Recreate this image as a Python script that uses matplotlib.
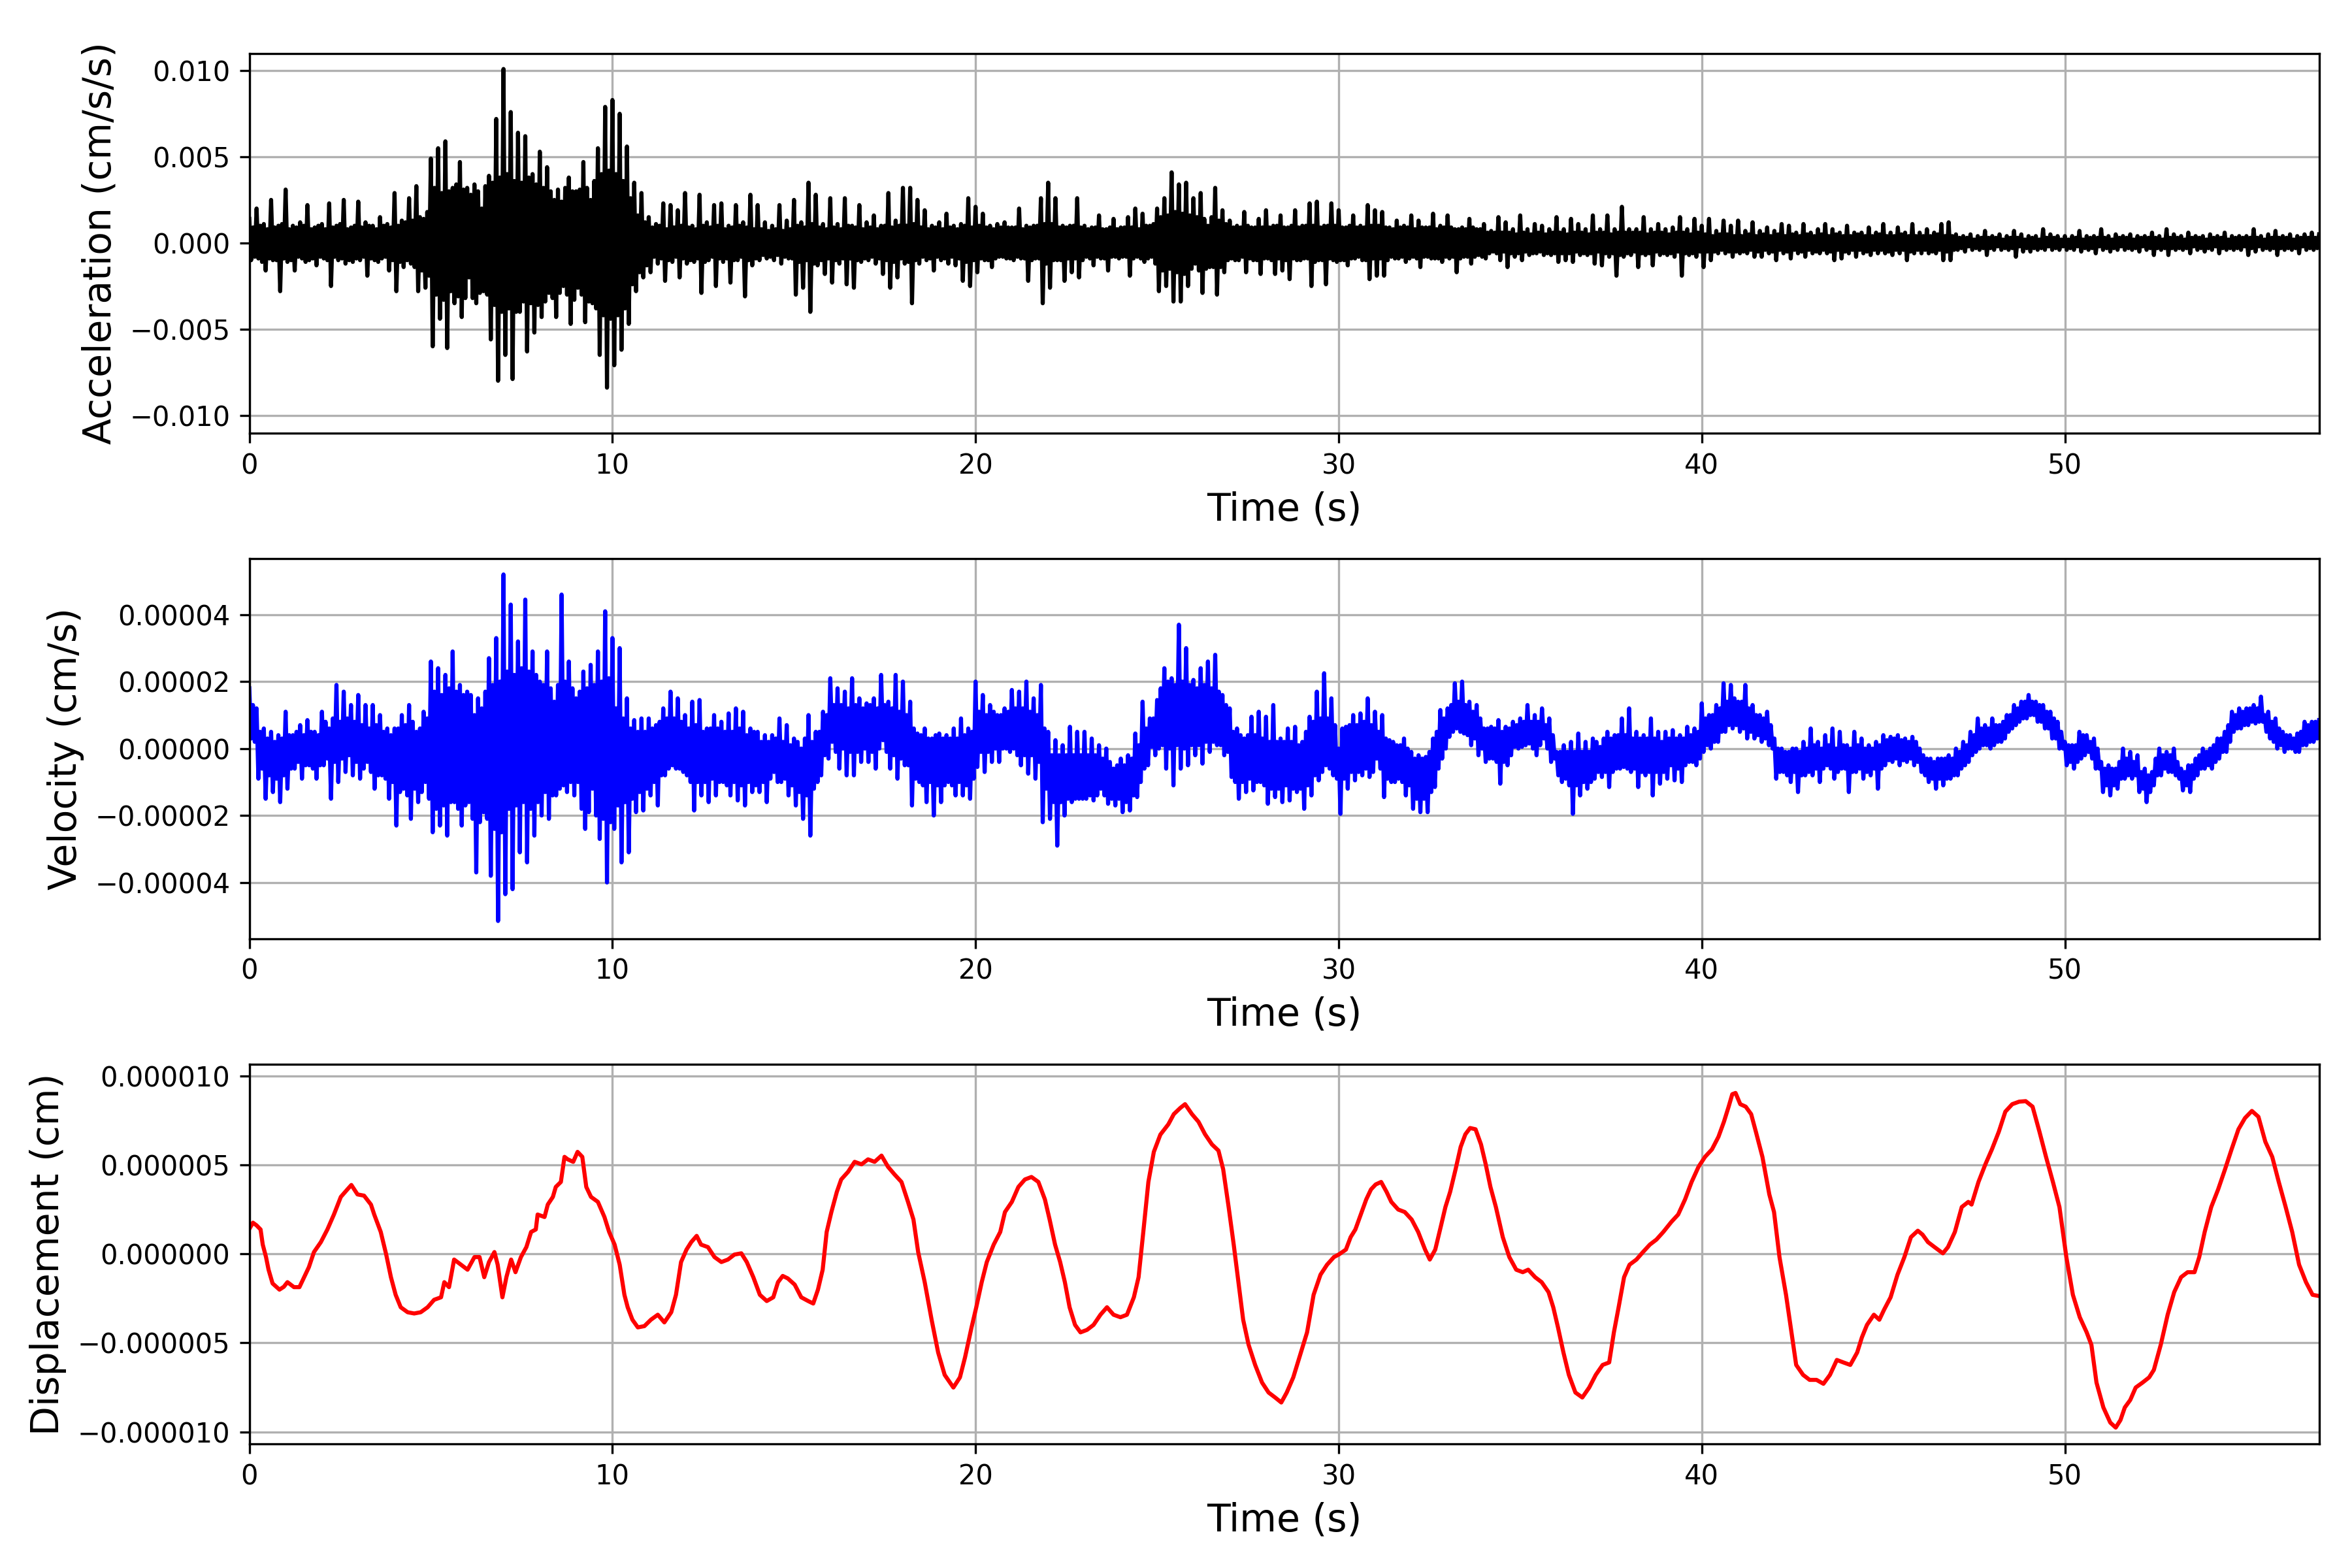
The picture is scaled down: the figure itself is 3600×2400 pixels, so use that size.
import numpy as np
import matplotlib
matplotlib.use("Agg")
import matplotlib.pyplot as plt

plt.rcParams['font.family'] = ['DejaVu Sans']
plt.rcParams['axes.formatter.limits'] = (-10, 10)

# ---------------- data ----------------
DT = 0.05  # sample spacing of the traced traces (s)

# acceleration, in units of 1e-3 cm/s/s, one row per second
accel_milli = [
    1.4,-1.0,0.9,-0.8,2.0,-0.9,1.0,-1.1,1.1,-1.6,0.8,-0.9,2.5,-1.0,0.9,-1.0,1.0,-2.8,1.1,-0.9,
    3.1,-1.1,0.8,-1.0,1.0,-1.6,0.9,-0.8,1.2,-0.9,1.0,-1.1,2.2,-1.0,0.8,-0.9,0.9,-1.3,1.0,-0.8,
    1.1,-0.9,0.8,-1.0,2.3,-2.5,0.9,-0.8,1.0,-1.0,1.1,-0.9,2.5,-1.2,0.8,-1.0,0.9,-1.1,1.0,-0.9,
    2.4,-1.0,0.9,-0.8,1.2,-1.9,1.0,-0.9,1.0,-1.0,0.8,-1.1,1.5,-0.9,1.0,-0.8,1.1,-1.6,0.9,-1.0,
    2.9,-2.8,1.0,-1.1,1.3,-1.4,1.2,-1.0,2.6,-1.2,1.3,-1.4,3.3,-2.8,1.5,-1.6,1.4,-2.6,1.8,-1.9,
    4.9,-6.0,3.2,-3.0,5.5,-4.4,2.9,-3.3,5.9,-6.1,3.0,-2.8,3.2,-3.5,3.4,-3.1,4.7,-4.3,3.1,-3.2,
    3.2,-2.0,2.8,-3.2,3.4,-3.5,3.0,-2.9,2.0,-2.8,3.3,-3.0,3.9,-5.6,3.5,-3.6,7.2,-8.0,3.8,-4.0,
    10.1,-6.5,4.0,-3.8,7.6,-7.9,3.6,-4.0,6.4,-4.0,3.5,-3.4,6.2,-6.3,3.8,-3.5,4.0,-5.2,3.4,-3.6,
    5.3,-4.3,3.2,-3.4,4.4,-2.9,3.0,-3.2,2.5,-4.3,3.1,-2.9,2.4,-2.5,3.2,-3.0,3.8,-4.7,3.0,-3.3,
    3.0,-2.6,3.1,-3.0,4.7,-4.6,3.2,-3.4,2.5,-3.5,3.6,-3.8,5.5,-6.5,4.0,-4.2,7.9,-8.4,4.2,-4.4,
    8.3,-7.1,4.0,-4.2,7.5,-6.2,3.6,-3.8,5.6,-4.7,2.6,-2.4,3.5,-2.8,1.6,-1.7,2.9,-2.0,1.2,-1.3,
    1.5,-1.7,0.9,-0.8,1.1,-1.2,1.0,-0.9,2.3,-2.2,0.8,-1.0,2.2,-1.1,0.9,-0.8,1.9,-2.0,1.0,-0.9,
    2.9,-1.2,0.9,-1.0,1.0,-1.1,0.8,-0.9,2.8,-2.9,1.0,-1.1,1.2,-1.0,0.9,-0.8,2.2,-2.5,1.0,-0.9,
    2.3,-1.1,0.8,-0.9,1.0,-2.3,0.9,-1.0,2.2,-1.0,1.0,-0.8,1.2,-3.1,0.9,-1.0,2.8,-1.3,0.8,-0.9,
    2.2,-1.0,0.8,-0.7,1.2,-0.9,0.7,-0.8,1.0,-1.0,0.8,-0.7,2.2,-1.2,0.7,-0.8,1.3,-0.9,0.8,-0.9,
    2.5,-3.0,1.0,-1.1,1.2,-2.6,0.9,-1.0,3.5,-4.0,1.1,-1.2,2.8,-1.3,0.9,-1.0,1.1,-1.8,0.8,-0.9,
    2.6,-2.3,0.9,-1.0,1.1,-1.2,0.8,-0.9,2.6,-2.4,1.0,-0.9,1.0,-2.6,0.9,-1.0,2.2,-1.1,0.8,-0.9,
    1.2,-1.0,0.9,-0.8,1.6,-1.2,0.8,-0.9,1.0,-1.8,1.0,-1.0,2.9,-2.6,0.9,-1.1,1.3,-2.0,1.0,-0.9,
    3.2,-1.2,1.0,-1.1,3.2,-3.5,1.1,-1.0,2.5,-1.2,0.9,-0.8,1.9,-1.0,0.8,-0.9,1.0,-1.6,0.9,-0.8,
    1.2,-1.0,0.8,-0.9,1.7,-1.2,0.9,-0.8,1.0,-1.3,0.8,-0.9,1.1,-2.2,1.0,-1.1,2.6,-2.5,0.9,-1.0,
    2.1,-1.7,1.0,-0.9,1.7,-1.0,0.9,-1.0,1.0,-1.4,0.8,-0.9,1.1,-0.8,0.9,-0.8,1.2,-0.9,0.9,-0.9,
    0.9,-1.0,0.9,-0.8,2.0,-0.9,0.8,-0.9,1.0,-2.2,0.9,-1.0,1.0,-0.9,1.0,-0.9,2.6,-3.5,1.1,-1.2,
    3.5,-2.6,1.1,-1.0,2.6,-1.0,0.9,-1.0,1.0,-2.2,0.9,-0.9,1.0,-1.7,1.0,-0.9,2.6,-2.0,0.9,-1.0,
    1.0,-0.8,0.8,-0.9,0.9,-1.3,0.9,-0.8,1.6,-0.9,0.8,-0.9,0.8,-1.6,0.9,-0.8,1.4,-0.8,0.8,-0.9,
    0.9,-0.8,0.9,-0.8,1.5,-1.9,0.9,-0.9,2.0,-0.8,0.8,-0.9,1.7,-1.1,1.0,-0.9,1.0,-0.8,1.1,-1.2,
    2.0,-2.8,1.5,-1.6,2.6,-2.5,1.6,-1.5,4.1,-3.4,1.8,-1.7,3.4,-3.4,1.7,-1.8,3.5,-2.5,1.6,-1.5,
    2.6,-1.2,1.5,-1.6,2.9,-2.9,1.4,-1.5,1.0,-1.4,1.5,-1.4,3.2,-3.0,1.3,-1.4,1.9,-1.7,1.1,-1.0,
    1.3,-0.9,0.9,-1.0,1.0,-1.0,0.9,-0.8,1.8,-1.7,1.0,-0.9,0.9,-1.0,0.9,-1.0,1.4,-1.8,0.9,-0.9,
    1.9,-0.9,0.9,-1.0,1.0,-1.8,1.0,-0.9,1.6,-1.6,0.9,-1.0,0.9,-2.1,1.0,-0.9,1.9,-1.0,0.9,-1.0,
    1.0,-0.9,1.0,-0.9,2.3,-2.5,1.0,-1.1,2.4,-1.0,0.9,-1.0,1.0,-2.4,1.0,-0.9,2.3,-1.0,1.0,-1.1,
    1.9,-1.0,0.9,-1.0,0.9,-1.3,1.0,-0.9,1.6,-0.9,0.9,-0.8,1.0,-1.0,0.9,-1.0,2.2,-2.1,1.0,-0.9,
    1.9,-1.9,1.0,-0.9,1.8,-1.9,0.9,-1.0,0.9,-0.8,0.8,-0.9,1.3,-0.9,0.9,-0.8,1.0,-1.1,0.9,-0.9,
    1.6,-0.8,0.8,-0.9,1.3,-1.4,0.9,-0.8,0.9,-0.8,0.9,-0.9,1.7,-0.9,0.8,-0.9,1.0,-1.1,0.9,-0.8,
    1.6,-0.9,0.9,-0.8,0.8,-1.7,0.8,-0.9,0.9,-0.8,0.8,-0.8,1.4,-1.2,0.9,-0.8,0.8,-0.7,0.8,-0.8,
    1.1,-0.9,0.6,-0.6,0.7,-0.5,0.6,-0.6,1.5,-1.0,0.6,-0.5,1.2,-1.4,0.6,-0.6,0.8,-0.8,0.5,-0.6,
    1.6,-1.0,0.6,-0.5,0.8,-0.7,0.5,-0.6,1.1,-0.6,0.6,-0.5,1.0,-0.7,0.5,-0.6,0.8,-0.7,0.6,-0.6,
    1.5,-1.1,0.6,-0.6,0.8,-1.0,0.5,-0.6,1.4,-1.1,0.6,-0.5,1.1,-0.7,0.6,-0.6,0.8,-0.7,0.5,-0.6,
    1.6,-1.2,0.6,-0.5,0.8,-1.3,0.6,-0.6,1.6,-0.8,0.5,-0.6,0.8,-1.9,0.6,-0.7,2.1,-0.8,0.6,-0.6,
    0.8,-0.7,0.6,-0.5,0.8,-1.4,0.6,-0.6,1.5,-0.7,0.5,-0.6,0.8,-1.3,0.6,-0.5,1.1,-0.7,0.6,-0.6,
    0.8,-0.7,0.5,-0.6,0.9,-0.8,0.6,-0.5,1.5,-1.9,0.6,-0.6,0.8,-0.7,0.5,-0.6,1.4,-0.8,0.6,-0.5,
    1.0,-1.4,0.5,-0.5,1.4,-1.0,0.4,-0.5,0.7,-0.6,0.5,-0.4,1.3,-0.6,0.5,-0.5,1.0,-0.8,0.4,-0.5,
    1.3,-0.6,0.4,-0.5,0.7,-0.6,0.5,-0.4,1.2,-0.8,0.4,-0.5,0.7,-0.8,0.5,-0.4,0.9,-0.6,0.4,-0.5,
    0.7,-1.0,0.5,-0.4,1.1,-0.6,0.4,-0.5,1.0,-0.9,0.5,-0.4,0.6,-0.6,0.4,-0.5,1.1,-0.8,0.5,-0.4,
    0.6,-0.6,0.4,-0.5,0.8,-0.6,0.5,-0.4,1.1,-0.6,0.4,-0.5,0.8,-1.0,0.5,-0.4,0.6,-0.9,0.4,-0.5,
    1.0,-0.6,0.4,-0.4,0.6,-0.8,0.5,-0.4,0.6,-0.6,0.4,-0.5,0.9,-0.7,0.4,-0.4,0.6,-0.6,0.5,-0.4,
    1.1,-0.6,0.4,-0.5,0.6,-0.7,0.4,-0.4,0.9,-0.6,0.5,-0.4,0.6,-1.0,0.4,-0.5,1.1,-0.6,0.4,-0.4,
    0.6,-0.6,0.4,-0.4,0.8,-0.6,0.4,-0.5,0.6,-0.6,0.5,-0.4,1.1,-1.0,0.4,-0.5,1.2,-1.0,0.4,-0.4,
    0.5,-0.4,0.3,-0.3,0.4,-0.5,0.3,-0.2,0.5,-0.4,0.2,-0.3,0.4,-0.4,0.3,-0.3,0.7,-0.7,0.3,-0.3,
    0.4,-0.4,0.3,-0.2,0.5,-0.4,0.2,-0.3,0.4,-0.4,0.3,-0.3,0.7,-0.8,0.3,-0.2,0.5,-0.5,0.2,-0.3,
    0.4,-0.5,0.3,-0.3,0.4,-0.4,0.2,-0.3,0.8,-0.4,0.3,-0.2,0.5,-0.4,0.3,-0.3,0.4,-0.4,0.2,-0.2,
    0.4,-0.4,0.2,-0.3,0.4,-0.4,0.3,-0.2,0.7,-0.5,0.2,-0.3,0.4,-0.4,0.3,-0.3,0.4,-0.6,0.3,-0.2,
    0.8,-0.4,0.3,-0.3,0.4,-0.5,0.2,-0.3,0.5,-0.4,0.3,-0.2,0.4,-0.4,0.3,-0.3,0.5,-0.4,0.2,-0.3,
    0.4,-0.5,0.3,-0.2,0.4,-0.4,0.3,-0.3,0.6,-0.7,0.3,-0.3,0.4,-0.4,0.2,-0.3,0.8,-0.7,0.3,-0.3,
    0.5,-0.4,0.3,-0.3,0.4,-0.4,0.2,-0.3,0.6,-0.6,0.3,-0.2,0.4,-0.4,0.3,-0.3,0.4,-0.5,0.2,-0.3,
    0.5,-0.4,0.3,-0.2,0.4,-0.6,0.3,-0.3,0.6,-0.4,0.2,-0.3,0.4,-0.4,0.3,-0.3,0.4,-0.4,0.3,-0.2,
    0.4,-0.7,0.3,-0.3,0.8,-0.5,0.3,-0.2,0.4,-0.4,0.2,-0.3,0.5,-0.4,0.3,-0.3,0.7,-0.7,0.3,-0.3,
    0.4,-0.4,0.3,-0.3,0.5,-0.4,0.2,-0.3,0.4,-0.6,0.3,-0.2,0.5,-0.4,0.3,-0.3,0.6,-0.4,0.3,-0.3,
    0.5,
]

# velocity, in units of 1e-5 cm/s, one row per second
vel_e5 = [
    1.8,0.3,1.3,0.2,1.2,-0.9,0.5,-0.6,0.6,-1.5,0.3,-0.8,0.5,-1.3,0.2,-0.9,0.4,-1.6,0.3,-0.8,
    1.1,-1.2,0.4,-0.6,0.4,-0.6,0.5,-0.4,0.7,-0.9,0.4,-0.5,0.85,-0.5,0.5,-0.6,0.5,-0.9,0.4,-0.5,
    1.1,-0.5,0.8,-0.3,0.6,-1.5,0.9,-0.4,1.9,-1.0,0.8,-0.3,1.7,-0.7,0.9,-0.2,1.3,-0.8,0.8,-0.4,
    1.6,-0.9,0.7,-0.6,1.3,-0.4,0.6,-0.7,1.3,-1.2,0.7,-0.8,1.0,-0.8,0.5,-0.9,0.6,-1.5,0.4,-1.0,
    0.6,-2.3,0.6,-1.3,1.0,-1.2,0.7,-1.4,1.3,-2.1,0.8,-1.2,0.5,-1.6,0.6,-1.3,1.1,-1.0,0.9,-1.5,
    2.6,-2.5,1.7,-1.8,2.4,-2.3,1.6,-1.7,2.2,-2.6,1.8,-1.6,2.9,-1.6,1.7,-1.8,1.9,-2.3,1.6,-1.7,
    1.7,-1.6,1.6,-2.1,1.0,-3.7,1.5,-2.2,1.2,-1.9,1.7,-2.1,2.7,-3.8,1.9,-2.4,3.3,-5.15,2.0,-2.5,
    5.2,-4.35,2.3,-1.8,4.3,-4.2,2.2,-1.7,3.2,-3.1,2.4,-1.6,4.45,-3.4,2.3,-1.8,2.9,-2.6,2.2,-1.6,
    2.0,-2.0,1.9,-1.3,2.9,-2.1,1.8,-1.4,1.4,-1.4,1.9,-1.2,4.6,-1.1,2.0,-1.3,2.6,-1.0,1.8,-1.4,
    1.5,-1.0,1.7,-1.8,2.3,-2.4,1.8,-1.9,2.5,-1.2,1.9,-2.0,2.9,-2.7,2.0,-2.1,4.1,-4.0,2.1,-2.2,
    3.3,-2.4,1.2,-1.7,3.0,-3.4,0.9,-1.6,1.5,-3.1,0.6,-1.5,0.85,-1.9,0.5,-1.3,0.9,-1.85,0.5,-1.2,
    0.9,-1.4,0.6,-1.0,0.7,-1.7,0.8,-0.8,1.2,-0.8,0.9,-0.6,1.7,-0.5,0.9,-0.6,1.5,-0.6,0.8,-0.7,
    1.0,-0.8,0.6,-1.0,1.4,-1.85,0.7,-1.0,1.45,-1.4,0.5,-1.0,0.6,-1.6,0.6,-0.9,1.0,-1.4,0.6,-1.0,
    0.8,-1.0,0.5,-1.1,1.05,-1.4,0.5,-1.0,1.2,-1.55,0.6,-1.1,1.1,-1.7,0.4,-1.0,0.6,-1.3,0.5,-1.1,
    0.5,-1.3,0.2,-1.0,0.4,-1.6,0.2,-0.9,0.4,-0.7,0.3,-1.0,0.9,-1.0,0.2,-0.9,0.7,-1.4,0.1,-1.1,
    0.3,-1.7,0.2,-1.3,0.0,-2.1,0.3,-1.4,1.0,-2.6,0.2,-1.2,0.5,-1.0,0.5,-0.8,1.1,-0.2,1.0,-0.3,
    2.1,0.2,1.3,-0.1,1.8,-0.6,1.3,0.0,1.7,-0.8,1.2,-0.1,2.1,-0.8,1.3,-0.1,1.5,-0.4,1.2,0.0,
    1.35,-0.4,1.3,-0.1,1.5,-0.6,1.2,0.0,2.2,0.25,1.3,-0.1,1.4,-0.6,1.2,-0.2,2.2,-0.9,1.1,-0.3,
    2.0,-0.5,1.0,-0.5,1.4,-1.7,0.6,-0.9,0.45,-1.0,0.4,-1.1,0.6,-1.6,0.3,-1.0,0.3,-2.0,0.4,-1.1,
    0.45,-1.6,0.3,-1.1,0.4,-1.0,0.3,-1.1,0.6,-1.4,0.3,-1.0,0.9,-1.4,0.4,-1.1,0.6,-1.5,0.5,-0.9,
    2.0,-0.55,1.1,-0.1,1.6,-0.7,1.0,-0.1,1.3,-0.4,1.1,0.0,1.0,-0.4,1.0,0.0,1.2,0.0,1.1,-0.1,
    1.75,0.0,1.2,-0.2,1.7,-0.5,1.2,-0.2,2.0,-0.75,1.1,-0.2,1.5,-0.9,1.0,-0.4,1.9,-2.2,0.6,-1.2,
    0.5,-2.1,-0.2,-1.6,0.25,-2.9,-0.2,-1.6,0.1,-2.0,-0.2,-1.5,0.65,-1.6,-0.2,-1.5,0.5,-1.5,-0.2,-1.5,
    0.5,-1.5,-0.2,-1.4,0.3,-1.55,-0.2,-1.4,0.1,-1.2,-0.3,-1.4,0.0,-1.65,-0.4,-1.5,-0.6,-1.7,-0.5,-1.5,
    -0.3,-1.9,-0.5,-1.6,-0.2,-1.85,-0.3,-1.4,0.45,-1.45,0.1,-1.0,1.4,-0.6,0.6,-0.5,0.9,0.05,0.9,-0.2,
    1.45,0.0,1.8,0.1,2.4,-0.6,2.0,0.0,2.1,-1.1,1.9,0.1,3.7,-0.6,2.0,0.0,3.0,-0.5,1.9,0.1,
    2.05,-0.2,1.8,0.1,2.4,-0.45,1.9,0.2,2.6,-0.1,1.8,0.2,2.8,0.1,1.7,0.1,1.6,-0.2,1.3,-0.1,
    1.2,-0.85,0.5,-1.0,0.6,-1.5,0.4,-1.0,0.3,-1.3,0.4,-0.9,0.95,-1.25,0.4,-1.0,1.1,-1.0,0.3,-1.1,
    0.95,-1.65,0.2,-1.2,1.3,-1.45,0.2,-1.2,0.3,-1.6,0.2,-1.1,0.6,-1.55,0.2,-1.2,0.65,-1.3,0.1,-1.2,
    0.2,-1.8,0.5,-1.1,0.95,-1.4,0.8,-0.8,1.7,-0.95,0.9,-0.7,2.25,-0.5,0.9,-0.6,1.5,-0.8,0.7,-0.9,
    0.0,-1.95,0.6,-0.9,0.65,-1.2,0.7,-0.7,1.0,-0.95,0.7,-0.7,1.05,-0.8,0.8,-0.6,1.5,-0.85,0.7,-0.7,
    1.1,-0.3,0.5,-0.6,1.0,-1.45,0.3,-0.9,0.25,-1.0,0.2,-1.0,0.1,-0.9,0.1,-1.0,0.3,-1.4,0.0,-1.1,
    -0.1,-1.8,-0.3,-1.5,-0.2,-1.9,-0.3,-1.5,-0.25,-1.9,-0.1,-1.3,0.3,-1.15,0.5,-0.6,1.15,-0.3,0.9,0.0,
    1.2,0.35,1.3,0.5,1.95,0.6,1.4,0.5,2.0,0.45,1.3,0.4,1.4,0.1,1.1,0.3,1.3,-0.2,0.9,0.0,
    0.6,-0.4,0.6,-0.3,0.65,-0.3,0.6,-0.4,0.85,-1.05,0.5,-0.4,0.65,-0.5,0.6,-0.2,0.8,0.05,0.7,0.0,
    0.9,0.05,0.8,0.1,1.3,0.15,0.8,0.0,1.0,-0.2,0.8,0.1,1.2,0.3,0.7,0.0,0.9,-0.4,0.4,-0.3,
    -0.1,-0.8,-0.1,-1.0,0.1,-0.9,-0.1,-1.1,0.2,-1.95,-0.1,-1.1,0.45,-1.4,-0.1,-1.0,0.2,-1.2,-0.1,-1.0,
    0.3,-0.9,0.2,-0.7,0.05,-0.85,0.3,-0.7,0.5,-1.15,0.3,-0.7,0.4,-0.6,0.4,-0.6,0.9,-0.55,0.4,-0.6,
    1.2,-0.7,0.3,-0.6,0.5,-1.15,0.3,-0.7,0.4,-0.8,0.3,-0.7,0.9,-1.4,0.3,-0.7,0.5,-1.05,0.2,-0.7,
    0.5,-0.9,0.3,-0.5,0.55,-0.95,0.3,-0.6,0.4,-1.0,0.3,-0.5,0.65,-0.4,0.4,-0.4,0.6,-0.5,0.5,-0.3,
    1.35,-0.1,0.9,0.1,1.0,0.0,1.0,0.2,1.3,0.2,1.2,0.5,1.95,0.5,1.4,0.7,1.9,0.6,1.5,0.7,
    1.4,0.5,1.4,0.6,1.9,0.3,1.2,0.5,1.3,0.3,1.0,0.4,1.0,0.2,0.9,0.3,1.1,0.1,0.7,0.0,
    0.3,-0.9,0.0,-0.7,0.0,-0.7,-0.1,-0.8,-0.1,-1.0,0.0,-0.7,0.0,-1.3,-0.1,-0.8,0.2,-0.8,0.0,-0.7,
    0.6,-0.8,0.1,-0.6,0.2,-1.0,0.0,-0.6,0.4,-0.5,0.1,-0.6,0.6,-0.9,0.0,-0.7,0.5,-0.6,0.1,-0.6,
    0.1,-1.3,0.0,-0.7,0.5,-0.7,0.1,-0.6,0.3,-0.9,0.0,-0.7,0.1,-0.8,0.0,-0.6,0.2,-1.2,0.1,-0.6,
    0.4,-0.5,0.25,-0.35,0.35,-0.4,0.3,-0.3,0.4,-0.5,0.25,-0.35,0.3,-0.4,0.2,-0.3,0.35,-0.5,0.2,-0.4,
    0.0,-0.7,-0.2,-0.8,-0.3,-1.0,-0.3,-0.9,-0.4,-1.2,-0.3,-0.9,-0.3,-1.1,-0.3,-0.9,-0.2,-0.9,-0.3,-0.8,
    0.0,-0.8,-0.1,-0.6,0.2,-0.5,0.1,-0.4,0.5,-0.2,0.4,-0.1,0.9,0.0,0.6,0.1,0.7,0.1,0.6,0.0,
    0.9,0.1,0.7,0.2,0.7,0.2,0.8,0.3,1.0,0.5,1.0,0.6,1.3,0.7,1.2,0.8,1.4,0.9,1.4,0.9,
    1.6,1.0,1.4,1.0,1.4,0.8,1.3,0.8,1.3,0.6,1.1,0.6,1.1,0.3,0.9,0.3,0.8,0.0,0.5,0.0,
    0.2,-0.5,0.1,-0.4,0.1,-0.6,0.1,-0.4,0.5,-0.3,0.4,-0.2,0.4,-0.1,0.2,-0.3,0.3,-0.6,0.0,-0.6,
    -0.4,-1.3,-0.6,-1.1,-0.5,-1.4,-0.6,-1.1,-0.6,-1.2,-0.4,-0.9,0.0,-0.9,-0.3,-0.8,-0.1,-0.9,-0.4,-0.8,
    -0.2,-1.3,-0.7,-1.2,-0.6,-1.6,-0.8,-1.3,-0.7,-1.1,-0.3,-0.8,0.0,-0.8,-0.2,-0.6,-0.1,-0.7,-0.2,-0.7,
    0.0,-0.8,-0.4,-0.9,-0.6,-1.25,-0.7,-1.1,-0.5,-1.3,-0.5,-0.9,-0.3,-0.8,-0.2,-0.6,0.0,-0.6,-0.1,-0.5,
    0.0,-0.6,0.1,-0.4,0.3,-0.3,0.3,-0.1,0.5,-0.1,0.7,0.2,1.1,0.5,1.0,0.6,1.2,0.6,1.1,0.7,
    1.2,0.7,1.2,0.8,1.3,0.75,1.2,0.8,1.55,0.8,1.0,0.5,1.1,0.3,0.8,0.2,0.9,0.0,0.6,0.1,
    0.5,-0.1,0.4,0.0,0.4,0.0,0.3,-0.1,0.45,-0.1,0.5,0.1,0.8,0.1,0.7,0.2,0.8,0.2,0.8,0.3,
    0.85,
]

# displacement, in units of 1e-6 cm, traced at irregular times
disp_t = [
    0.0,0.1,0.2,0.31,0.37,0.46,0.53,0.64,0.83,0.95,1.05,1.23,1.38,1.51,1.64,1.78,1.97,
    2.15,2.33,2.52,2.70,2.81,2.98,3.16,3.35,3.44,3.62,3.77,3.90,4.03,4.17,4.36,4.54,
    4.72,4.91,5.09,5.28,5.37,5.50,5.64,5.83,6.01,6.20,6.34,6.47,6.60,6.75,6.84,6.97,
    7.08,7.21,7.33,7.48,7.63,7.76,7.89,7.94,8.13,8.22,8.36,8.44,8.58,8.68,8.77,8.92,
    9.04,9.17,9.28,9.41,9.60,9.78,9.91,10.06,10.20,10.33,10.42,10.55,10.70,10.88,11.06,
    11.25,11.43,11.62,11.75,11.89,12.04,12.17,12.32,12.44,12.63,12.81,13.00,13.18,13.36,
    13.55,13.70,13.88,14.06,14.25,14.43,14.56,14.69,14.83,15.02,15.20,15.39,15.53,15.66,
    15.79,15.90,16.03,16.18,16.30,16.49,16.67,16.86,17.04,17.22,17.41,17.59,17.77,17.96,
    18.14,18.29,18.42,18.60,18.79,18.97,19.15,19.39,19.57,19.71,19.89,20.02,20.17,20.31,
    20.50,20.68,20.81,21.00,21.18,21.36,21.54,21.73,21.91,22.04,22.19,22.33,22.46,22.59,
    22.74,22.89,23.07,23.25,23.44,23.62,23.80,23.99,24.17,24.36,24.49,24.62,24.76,24.91,
    25.09,25.31,25.46,25.64,25.77,25.96,26.14,26.32,26.51,26.69,26.82,26.97,27.11,27.24,
    27.37,27.52,27.70,27.89,28.07,28.25,28.42,28.57,28.75,28.94,29.13,29.31,29.50,29.68,
    29.87,30.0,30.20,30.33,30.46,30.61,30.76,30.89,31.02,31.17,31.32,31.45,31.64,31.82,
    32.01,32.19,32.38,32.51,32.66,32.81,32.94,33.07,33.22,33.36,33.49,33.62,33.77,33.92,
    34.05,34.18,34.33,34.52,34.70,34.89,35.07,35.22,35.41,35.59,35.78,35.91,36.04,36.19,
    36.34,36.52,36.71,36.90,37.08,37.27,37.45,37.58,37.71,37.86,38.01,38.20,38.38,38.57,
    38.75,38.94,39.16,39.35,39.54,39.72,39.91,40.09,40.28,40.46,40.61,40.74,40.84,40.93,
    41.06,41.21,41.36,41.49,41.67,41.86,41.99,42.14,42.32,42.47,42.60,42.79,42.97,43.16,
    43.35,43.53,43.72,43.90,44.09,44.28,44.41,44.55,44.74,44.89,45.02,45.20,45.39,45.58,
    45.76,45.95,46.08,46.23,46.41,46.64,46.78,46.97,47.16,47.34,47.43,47.62,47.81,47.99,
    48.18,48.36,48.55,48.74,48.92,49.11,49.30,49.48,49.67,49.85,50.04,50.22,50.41,50.60,
    50.73,50.87,51.06,51.25,51.40,51.53,51.65,51.80,51.95,52.14,52.32,52.45,52.64,52.83,
    53.01,53.20,53.38,53.57,53.70,53.85,54.03,54.22,54.41,54.59,54.78,54.96,55.15,55.33,
    55.52,55.71,55.89,56.08,56.26,56.45,56.64,56.82,57.0,
]
disp_e6 = [
    1.4,1.75,1.6,1.37,0.52,-0.18,-0.89,-1.66,-2.01,-1.85,-1.59,-1.87,-1.87,-1.31,-0.75,0.10,0.66,
    1.37,2.21,3.20,3.62,3.87,3.34,3.27,2.77,2.21,1.23,-0.04,-1.31,-2.30,-3.0,-3.28,-3.35,
    -3.28,-3.0,-2.58,-2.44,-1.59,-1.87,-0.32,-0.61,-0.89,-0.18,-0.18,-1.31,-0.46,0.10,-0.61,-2.44,
    -1.31,-0.32,-1.03,-0.18,0.38,1.23,1.37,2.21,2.07,2.77,3.20,3.76,4.04,5.45,5.31,5.17,
    5.73,5.45,3.76,3.20,2.92,2.07,1.23,0.52,-0.61,-2.30,-3.0,-3.70,-4.13,-4.06,-3.70,
    -3.42,-3.85,-3.28,-2.30,-0.46,0.24,0.66,1.01,0.52,0.38,-0.18,-0.46,-0.32,-0.04,
    0.03,-0.46,-1.31,-2.30,-2.65,-2.44,-1.59,-1.24,-1.38,-1.73,-2.44,-2.65,-2.79,-2.01,
    -0.89,1.23,2.35,3.48,4.18,4.61,5.17,5.03,5.31,5.17,5.52,4.89,4.46,4.04,
    2.92,1.93,0.10,-1.59,-3.70,-5.54,-6.80,-7.51,-6.94,-5.82,-4.13,-3.0,-1.59,-0.46,
    0.52,1.23,2.35,2.92,3.76,4.18,4.32,4.04,3.06,1.93,0.52,-0.46,-1.59,-3.0,
    -3.99,-4.41,-4.27,-3.99,-3.42,-3.0,-3.42,-3.56,-3.42,-2.44,-1.31,1.23,4.04,5.73,
    6.70,7.28,7.85,8.20,8.41,7.85,7.42,6.72,6.15,5.80,4.75,2.63,0.52,-1.59,
    -3.70,-5.11,-6.24,-7.23,-7.79,-8.07,-8.35,-7.79,-6.94,-5.68,-4.41,-2.30,-1.17,-0.61,
    -0.18,-0.04,0.24,0.94,1.37,2.21,3.06,3.62,3.90,4.04,3.48,2.92,2.49,2.35,
    1.93,1.23,0.24,-0.32,0.24,1.51,2.63,3.48,4.75,6.01,6.72,7.07,7.00,6.15,
    5.03,3.76,2.63,0.94,-0.18,-0.89,-1.03,-0.89,-1.31,-1.59,-2.15,-3.0,-4.13,-5.54,
    -6.80,-7.79,-8.07,-7.51,-6.80,-6.24,-6.10,-4.41,-3.0,-1.31,-0.61,-0.32,0.10,0.52,
    0.80,1.23,1.79,2.21,3.06,4.04,4.89,5.45,5.87,6.58,7.42,8.27,8.97,9.04,
    8.41,8.27,7.85,6.86,5.45,3.34,2.35,-0.18,-2.30,-4.41,-6.24,-6.80,-7.08,-7.08,
    -7.30,-6.80,-5.96,-6.10,-6.24,-5.54,-4.69,-3.99,-3.42,-3.70,-3.14,-2.44,-1.17,-0.18,
    0.94,1.30,1.08,0.66,0.38,0.03,0.38,1.23,2.63,2.92,2.77,4.04,5.03,5.87,
    6.86,7.99,8.41,8.55,8.58,8.27,6.86,5.45,4.04,2.63,-0.18,-2.30,-3.56,-4.41,
    -5.11,-7.23,-8.63,-9.48,-9.76,-9.34,-8.63,-8.21,-7.51,-7.23,-6.94,-6.52,-5.11,-3.42,
    -2.15,-1.31,-1.03,-1.03,-0.18,1.23,2.63,3.62,4.75,5.87,7.00,7.63,8.03,7.70,
    6.30,5.45,4.04,2.63,1.23,-0.61,-1.59,-2.30,-2.37,
]

x_ticks = [0, 10, 20, 30, 40, 50]
x_range = (0, 57.0)
acc_ylim = (-0.01105, 0.01101)
vel_ylim = (-5.68e-5, 5.67e-5)
disp_ylim = (-1.069e-5, 1.066e-5)

# ---------------- figure ----------------
t_acc = np.arange(len(accel_milli)) * DT
t_vel = np.arange(len(vel_e5)) * DT
acc = np.array(accel_milli) * 1e-3
vel = np.array(vel_e5) * 1e-5
disp = np.array(disp_e6) * 1e-6

fig, axes = plt.subplots(3, 1, figsize=(12, 8), dpi=300)
fig.subplots_adjust(left=0.106, right=0.986, top=0.966, bottom=0.079, hspace=0.33)

panels = [
    (axes[0], t_acc, acc, 'k', 'Acceleration (cm/s/s)', acc_ylim, [-0.010, -0.005, 0.0, 0.005, 0.010]),
    (axes[1], t_vel, vel, 'b', 'Velocity (cm/s)', vel_ylim, [-0.00004, -0.00002, 0.0, 0.00002, 0.00004]),
    (axes[2], np.array(disp_t), disp, 'r', 'Displacement (cm)', disp_ylim, [-0.000010, -0.000005, 0.0, 0.000005, 0.000010]),
]

for ax, t, y, c, lab, ylim, yt in panels:
    ax.plot(t, y, color=c, linewidth=1.5)
    ax.set_xlim(*x_range)
    ax.set_ylim(*ylim)
    ax.set_xticks(x_ticks)
    ax.set_yticks(yt)
    ax.grid(True, color='#b0b0b0', linewidth=0.8)
    ax.set_axisbelow(True)
    ax.set_xlabel('Time (s)', fontsize=14)
    ax.set_ylabel(lab, fontsize=14)
    ax.tick_params(labelsize=10)
    ax.ticklabel_format(axis='y', style='plain', useOffset=False)

fig.savefig('out.png', dpi=300)
